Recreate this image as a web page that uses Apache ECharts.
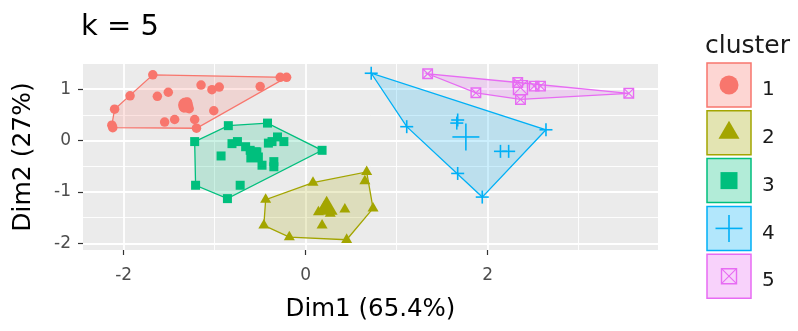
<!DOCTYPE html>
<html>
<head>
<meta charset="utf-8">
<script src="https://cdn.jsdelivr.net/npm/echarts@6/dist/echarts.min.js"></script>
<style>
  html, body { margin: 0; padding: 0; background: #ffffff; }
  #chart { width: 798px; height: 331px; }
</style>
</head>
<body>
<div id="chart"></div>
<script>
// k-means result (k = 5) projected on the first two principal dimensions
const clusterNames = ['1', '2', '3', '4', '5'];

const cluster1 = [
  [-1.68, 1.28], [-1.63, 0.86], [-1.51, 0.94], [-1.93, 0.87], [-2.10, 0.61],
  [-2.13, 0.30], [-2.12, 0.25], [-1.55, 0.36], [-1.44, 0.41], [-1.30, 0.75],
  [-1.34, 0.64], [-1.28, 0.62], [-1.22, 0.41], [-1.20, 0.24], [-1.15, 1.08],
  [-1.03, 0.99], [-0.95, 1.04], [-1.01, 0.58], [-0.50, 1.05], [-0.28, 1.23],
  [-0.21, 1.23]
];
const cluster2 = [
  [-0.44, -1.15], [-0.46, -1.65], [-0.18, -1.88], [0.08, -0.82], [0.45, -1.93],
  [0.67, -0.61], [0.65, -0.79], [0.74, -1.32], [0.43, -1.34], [0.18, -1.65],
  [0.14, -1.39], [0.27, -1.42], [0.20, -1.30]
];
const cluster3 = [
  [-1.22, -0.02], [-0.85, 0.29], [-0.42, 0.34], [0.18, -0.19], [-1.21, -0.87],
  [-0.86, -1.13], [-0.72, -0.87], [-0.93, -0.30], [-0.75, -0.02], [-0.81, -0.06],
  [-0.61, -0.19], [-0.52, -0.32], [-0.35, -0.41], [-0.35, -0.51], [-0.48, -0.48],
  [-0.31, 0.07], [-0.24, -0.02], [-0.37, -0.02], [-0.66, -0.12], [-0.41, -0.05],
  [-0.55, -0.22]
];
const cluster4 = [
  [0.72, 1.31], [1.11, 0.27], [1.67, 0.40], [1.66, 0.34], [1.67, -0.64],
  [1.94, -1.10], [2.64, 0.21], [2.14, -0.21], [2.23, -0.21]
];
const cluster5 = [
  [1.34, 1.30], [1.87, 0.93], [2.33, 1.13], [2.36, 0.80], [2.51, 1.06],
  [2.58, 1.06], [3.55, 0.92]
];
const clusterCenters = [
  [-1.32, 0.69], [0.23, -1.32], [-0.57, -0.28], [1.76, 0.07], [2.36, 1.03]
];

const xMajorTicks = [-2, 0, 2];
const xMinorTicks = [-1, 1, 3];
const yMajorTicks = [-2, -1, 0, 1];
const yMinorTicks = [-1.5, -0.5, 0.5];

const clusterPoints = [cluster1, cluster2, cluster3, cluster4, cluster5];

// ggplot2 default hue palette
const palette = ['#F8766D', '#A3A500', '#00BF7D', '#00B0F6', '#E76BF3'];
const shapes = ['circle', 'triangle', 'square', 'plus', 'boxcross'];
const pointSize = [9.5, 11, 9, 13, 9.5];
const centerSize = [15, 22, 15, 27, 14];
const FONT = 'DejaVu Sans';

function withAlpha(hex, a) {
  const n = parseInt(hex.slice(1), 16);
  return 'rgba(' + ((n >> 16) & 255) + ',' + ((n >> 8) & 255) + ',' + (n & 255) + ',' + a + ')';
}

// Monotone chain convex hull
function convexHull(pts) {
  const p = pts.slice().sort((a, b) => a[0] - b[0] || a[1] - b[1]);
  const cross = (o, a, b) => (a[0] - o[0]) * (b[1] - o[1]) - (a[1] - o[1]) * (b[0] - o[0]);
  const lower = [];
  for (const q of p) {
    while (lower.length >= 2 && cross(lower[lower.length - 2], lower[lower.length - 1], q) <= 0) lower.pop();
    lower.push(q);
  }
  const upper = [];
  for (let i = p.length - 1; i >= 0; i--) {
    const q = p[i];
    while (upper.length >= 2 && cross(upper[upper.length - 2], upper[upper.length - 1], q) <= 0) upper.pop();
    upper.push(q);
  }
  upper.pop(); lower.pop();
  return lower.concat(upper);
}

// Shape elements (shared by plot markers and legend keys)
function shapeElements(shape, cx, cy, size, color) {
  const s = size / 2;
  switch (shape) {
    case 'circle':
      return [{ type: 'circle', shape: { cx: cx, cy: cy, r: s }, style: { fill: color } }];
    case 'triangle': {
      const h = size * 0.866;
      return [{ type: 'polygon', shape: { points: [[cx, cy - 2 * h / 3], [cx - s, cy + h / 3], [cx + s, cy + h / 3]] }, style: { fill: color } }];
    }
    case 'square':
      return [{ type: 'rect', shape: { x: cx - s, y: cy - s, width: size, height: size }, style: { fill: color } }];
    case 'plus':
      return [
        { type: 'line', shape: { x1: cx - s, y1: cy, x2: cx + s, y2: cy }, style: { stroke: color, lineWidth: 1.6 } },
        { type: 'line', shape: { x1: cx, y1: cy - s, x2: cx, y2: cy + s }, style: { stroke: color, lineWidth: 1.6 } }
      ];
    case 'boxcross':
      return [
        { type: 'rect', shape: { x: cx - s, y: cy - s, width: size, height: size }, style: { fill: 'none', stroke: color, lineWidth: 1.4 } },
        { type: 'line', shape: { x1: cx - s, y1: cy - s, x2: cx + s, y2: cy + s }, style: { stroke: color, lineWidth: 1.1 } },
        { type: 'line', shape: { x1: cx - s, y1: cy + s, x2: cx + s, y2: cy - s }, style: { stroke: color, lineWidth: 1.1 } }
      ];
  }
  return [];
}

const series = [];

// Cluster hulls
clusterPoints.forEach((pts, i) => {
  const hull = convexHull(pts);
  series.push({
    type: 'custom',
    name: 'hull ' + clusterNames[i],
    data: hull,
    silent: true,
    z: 1,
    renderItem: function (params, api) {
      if (params.dataIndex !== 0) return null;
      const poly = hull.map(p => api.coord(p));
      return {
        type: 'polygon',
        shape: { points: poly },
        style: { fill: withAlpha(palette[i], 0.2), stroke: palette[i], lineWidth: 1.3 }
      };
    }
  });
});

function markerSeries(data, i, size, z) {
  return {
    type: 'custom',
    name: 'cluster ' + clusterNames[i],
    data: data,
    silent: true,
    z: z,
    renderItem: function (params, api) {
      const c = api.coord([api.value(0), api.value(1)]);
      return { type: 'group', children: shapeElements(shapes[i], c[0], c[1], size, palette[i]) };
    }
  };
}

clusterPoints.forEach((pts, i) => {
  series.push(markerSeries(pts, i, pointSize[i], 3));
  series.push(markerSeries([clusterCenters[i]], i, centerSize[i], 4));
});

// Legend keys
const legendGraphics = [{
  type: 'text', left: 705, top: 34,
  style: { text: 'cluster', font: '25px "' + FONT + '"', fill: '#1a1a1a', verticalAlign: 'middle' }
}];
const legendSymbol = [19, 21, 17, 27, 15];
clusterNames.forEach((name, i) => {
  const top = 63 + i * 47.8;
  const cx = 729, cy = top + 22;
  legendGraphics.push({
    type: 'rect', shape: { x: 707, y: top, width: 44, height: 44 },
    style: { fill: withAlpha(palette[i], 0.3), stroke: palette[i], lineWidth: 1.5 }
  });
  shapeElements(shapes[i], cx, cy, legendSymbol[i], palette[i]).forEach(el => legendGraphics.push(el));
  legendGraphics.push({
    type: 'text', x: 762, y: cy + 5,
    style: { text: name, font: '20px "' + FONT + '"', fill: '#1a1a1a', verticalAlign: 'middle' }
  });
});

const chart = echarts.init(document.getElementById('chart'), null, { renderer: 'canvas' });

const axisLabelStyle = { color: '#4D4D4D', fontSize: 17, fontFamily: FONT };
const xMin = -2.447, xMax = 3.871, yMin = -2.13, yMax = 1.49;

chart.setOption({
  animation: false,
  backgroundColor: '#ffffff',
  title: {
    text: 'k = 5', left: 81, top: 13, padding: 0,
    textStyle: { fontFamily: FONT, fontSize: 29, fontWeight: 'normal', color: '#000000' }
  },
  grid: {
    left: 83, top: 64, width: 575, height: 186,
    show: true, backgroundColor: '#EBEBEB', borderWidth: 0
  },
  xAxis: [{
    type: 'value', min: xMin, max: xMax, position: 'bottom',
    axisLine: { show: false, onZero: false },
    axisTick: { show: true, length: 5, customValues: xMajorTicks, lineStyle: { color: '#333333', width: 1.2 } },
    axisLabel: Object.assign({ customValues: xMajorTicks, margin: 17 }, axisLabelStyle),
    splitLine: { show: true, lineStyle: { color: '#ffffff', width: 1.8 } },
    name: 'Dim1 (65.4%)', nameLocation: 'middle', nameGap: 47,
    nameTextStyle: { fontFamily: FONT, fontSize: 24.5, color: '#000000' }
  }, {
    // minor grid lines
    type: 'value', min: xMin, max: xMax, position: 'top',
    axisLine: { show: false, onZero: false },
    axisTick: { show: false, customValues: xMinorTicks },
    axisLabel: { show: false, customValues: xMinorTicks },
    splitLine: { show: true, lineStyle: { color: '#ffffff', width: 0.9 } }
  }],
  yAxis: [{
    type: 'value', min: yMin, max: yMax, position: 'left',
    axisLine: { show: false, onZero: false },
    axisTick: { show: true, length: 5, customValues: yMajorTicks, lineStyle: { color: '#333333', width: 1.2 } },
    axisLabel: Object.assign({ customValues: yMajorTicks, margin: 12, align: 'right' }, axisLabelStyle),
    splitLine: { show: true, lineStyle: { color: '#ffffff', width: 1.8 } },
    name: 'Dim2 (27%)', nameLocation: 'middle', nameGap: 47, nameRotate: 90, nameMoveOverlap: false,
    nameTextStyle: { fontFamily: FONT, fontSize: 25, color: '#000000' }
  }, {
    // minor grid lines
    type: 'value', min: yMin, max: yMax, position: 'right',
    axisLine: { show: false, onZero: false },
    axisTick: { show: false, customValues: yMinorTicks },
    axisLabel: { show: false, customValues: yMinorTicks },
    splitLine: { show: true, lineStyle: { color: '#ffffff', width: 0.9 } }
  }],
  graphic: legendGraphics,
  series: series
});
</script>
</body>
</html>
